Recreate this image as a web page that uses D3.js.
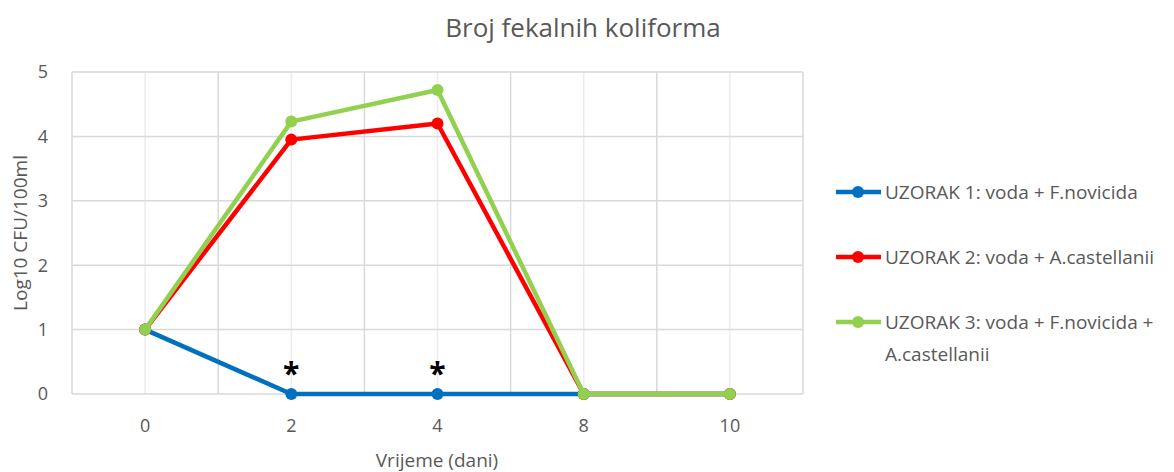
<!DOCTYPE html>
<html><head><meta charset="utf-8">
<script src="https://cdn.jsdelivr.net/npm/d3@7"></script>
<style>body{margin:0;background:#fff;} text{font-family:"Open Sans",sans-serif;}</style>
</head><body>
<svg id="chart" width="1174" height="472"></svg>
<script>
const categories = ["0","2","4","8","10"];
const series1 = [1, 0, 0, 0, 0];
const series2 = [1, 3.95, 4.2, 0, 0];
const series3 = [1, 4.23, 4.72, 0, 0];
const seriesNames = ["UZORAK 1: voda + F.novicida","UZORAK 2: voda + A.castellanii","UZORAK 3: voda + F.novicida + A.castellanii"];
const yTicks = [0,1,2,3,4,5];
const asteriskCats = ["2","4"];

const colors = ["#0070C0","#FF0000","#92D050"];
const svg = d3.select("#chart");
const L=72,R=803,T=72,B=394;
const x = d3.scaleBand().domain(categories).range([L,R]);
const y = d3.scaleLinear().domain([0,5]).range([B,T]);
const cx = c => x(c)+x.bandwidth()/2;

svg.append("g").selectAll("line").data(categories).join("line")
  .attr("x1",d=>cx(d)).attr("x2",d=>cx(d)).attr("y1",T).attr("y2",B)
  .attr("stroke","#ececec").attr("stroke-width",1.5);
const edges = categories.map(c=>x(c)).concat([R]);
svg.append("g").selectAll("line").data(edges).join("line")
  .attr("x1",d=>d).attr("x2",d=>d).attr("y1",T).attr("y2",B)
  .attr("stroke","#d9d9d9").attr("stroke-width",1.5);
svg.append("g").selectAll("line").data(yTicks).join("line")
  .attr("x1",L).attr("x2",R).attr("y1",d=>y(d)).attr("y2",d=>y(d))
  .attr("stroke","#d9d9d9").attr("stroke-width",1.5);

svg.append("g").selectAll("text").data(yTicks).join("text")
  .attr("x",48).attr("y",d=>y(d)).attr("dy","0.35em").attr("text-anchor","end")
  .attr("font-size",18).attr("fill","#595959").text(d=>d);
svg.append("g").selectAll("text").data(categories).join("text")
  .attr("x",d=>cx(d)).attr("y",432).attr("text-anchor","middle")
  .attr("font-size",18).attr("fill","#595959").text(d=>d);

svg.append("text").attr("x",583).attr("y",37).attr("text-anchor","middle")
  .attr("font-size",26).attr("fill","#595959").text("Broj fekalnih koliforma");
svg.append("text").attr("x",437).attr("y",467).attr("text-anchor","middle")
  .attr("font-size",19).attr("fill","#595959").text("Vrijeme (dani)");
svg.append("text").attr("transform","translate(27,233) rotate(-90)").attr("text-anchor","middle")
  .attr("font-size",19).attr("fill","#595959").text("Log10 CFU/100ml");

const allSeries=[series1,series2,series3];
const line = d3.line().x((d,i)=>cx(categories[i])).y(d=>y(d));
allSeries.forEach((s,k)=>{
  const g=svg.append("g");
  g.append("path").datum(s).attr("d",line).attr("fill","none")
    .attr("stroke",colors[k]).attr("stroke-width",4.5).attr("stroke-linejoin","round");
  g.selectAll("circle").data(s).join("circle")
    .attr("cx",(d,i)=>cx(categories[i])).attr("cy",d=>y(d)).attr("r",6).attr("fill",colors[k]);
});

svg.append("g").selectAll("text").data(asteriskCats).join("text")
  .attr("x",d=>cx(d)).attr("y",384).attr("text-anchor","middle")
  .attr("font-size",30).attr("font-weight","bold").attr("fill","#000").text("*");

const legY=[192,257,322];
seriesNames.forEach((n,k)=>{
  const g=svg.append("g");
  g.append("line").attr("x1",836).attr("x2",881).attr("y1",legY[k]).attr("y2",legY[k])
    .attr("stroke",colors[k]).attr("stroke-width",4.5);
  g.append("circle").attr("cx",858).attr("cy",legY[k]).attr("r",6).attr("fill",colors[k]);
  const t=g.append("text").attr("x",885).attr("y",legY[k]).attr("dy","0.35em")
    .attr("font-size",19).attr("fill","#595959");
  if(k===2){
    t.append("tspan").attr("x",885).text("UZORAK 3: voda + F.novicida +");
    t.append("tspan").attr("x",885).attr("dy","32").text("A.castellanii");
  } else t.text(n);
});
</script>
</body></html>
